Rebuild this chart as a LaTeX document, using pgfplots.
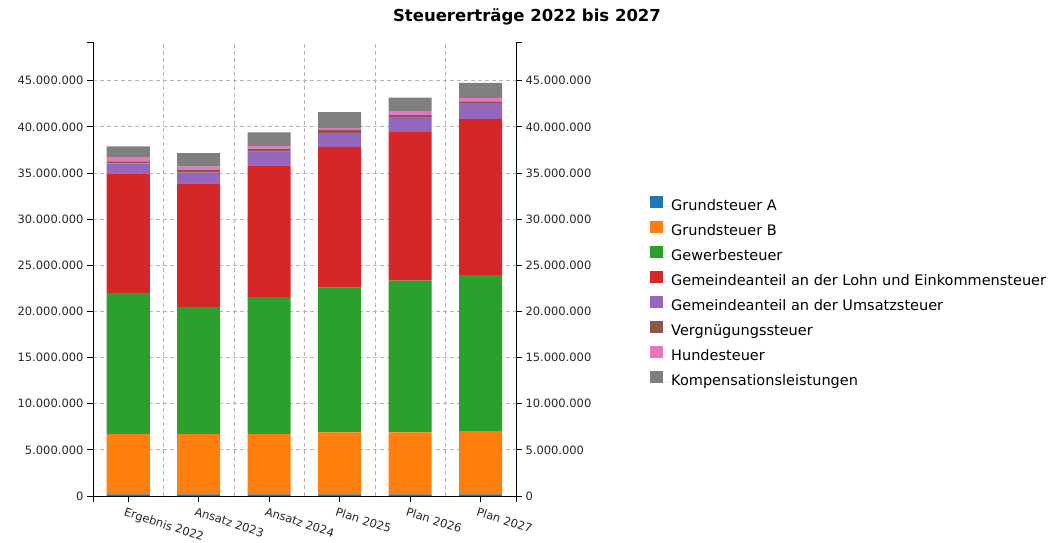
\documentclass[border=0pt]{standalone}
\usepackage{fontspec}
\setmainfont{DejaVu Sans}
\usepackage{pgfplots}
\pgfplotsset{compat=1.18}

\definecolor{cA}{HTML}{1F77B4}
\definecolor{cB}{HTML}{FF7F0E}
\definecolor{cGew}{HTML}{2CA02C}
\definecolor{cESt}{HTML}{D62728}
\definecolor{cUSt}{HTML}{9467BD}
\definecolor{cVer}{HTML}{8C564B}
\definecolor{cHun}{HTML}{E377C2}
\definecolor{cKom}{HTML}{7F7F7F}
\definecolor{gridc}{HTML}{B4B4B4}

\pgfplotsset{
 base/.style={
  scale only axis,width=423pt,height=454pt,
  at={(93pt,46pt)},anchor=south west,
  xmin=-0.5,xmax=5.5,ymin=0,ymax=49200000,
  scaled y ticks=false,
  ytick={0,5000000,10000000,15000000,20000000,25000000,30000000,35000000,40000000,45000000},
  yticklabels={0,5.000.000,10.000.000,15.000.000,20.000.000,25.000.000,30.000.000,35.000.000,40.000.000,45.000.000},
  extra y ticks={49200000},extra y tick labels={},
  extra tick style={grid=none},
  tick align=outside,major tick length=6pt,
  tick style={black,line width=0.8pt},
  axis line style={black,line width=0.8pt},
  tick label style={font=\fontsize{11.5}{13}\selectfont,text=black!85},
  /pgf/number format/assume math mode=true,
 },
}

\begin{document}
\begin{tikzpicture}
\begin{axis}[base,
 axis x line*=bottom,axis y line*=left,
 ybar stacked,bar width=43pt,
 xtick={0,1,2,3,4,5},
 xticklabels={Ergebnis 2022,Ansatz 2023,Ansatz 2024,Plan 2025,Plan 2026,Plan 2027},
 extra x ticks={-0.5,5.5},extra x tick labels={},
 x tick label style={rotate=-18,anchor=north west,xshift=-4pt,yshift=-2pt,font=\fontsize{11.5}{13}\selectfont},
 minor xtick={0.5,1.5,2.5,3.5,4.5},minor tick length=0pt,
 xminorgrids=true,ymajorgrids=true,
 major grid style={gridc,line width=0.8pt,dash pattern=on 4pt off 3pt},
 minor grid style={gridc,line width=0.8pt,dash pattern=on 4pt off 3pt},
 legend cell align=left,
 legend style={draw=none,fill=none,inner sep=0pt,
  at={(axis description cs:1.3168,0.662)},anchor=north west,
  font=\fontsize{14.5}{16}\selectfont,row sep=7pt,
  nodes={inner sep=0pt,text height=11pt,text depth=3pt}},
 legend image code/.code={\fill[#1,draw=none] (0pt,-1pt) rectangle (13pt,11pt); \path (0pt,0pt) -- (21pt,0pt);},
]
\addplot[fill=cA,draw=none] coordinates {(0,170000) (1,170000) (2,170000) (3,170000) (4,170000) (5,170000)};
\addplot[fill=cB,draw=none] coordinates {(0,6530000) (1,6530000) (2,6530000) (3,6720000) (4,6720000) (5,6860000)};
\addplot[fill=cGew,draw=none] coordinates {(0,15300000) (1,13790000) (2,14840000) (3,15690000) (4,16440000) (5,16910000)};
\addplot[fill=cESt,draw=none] coordinates {(0,12930000) (1,13400000) (2,14290000) (3,15260000) (4,16130000) (5,16890000)};
\addplot[fill=cUSt,draw=none] coordinates {(0,1120000) (1,1150000) (2,1490000) (3,1510000) (4,1620000) (5,1750000)};
\addplot[fill=cVer,draw=none] coordinates {(0,220000) (1,330000) (2,320000) (3,330000) (4,190000) (5,180000)};
\addplot[fill=cHun,draw=none] coordinates {(0,460000) (1,320000) (2,280000) (3,210000) (4,430000) (5,360000)};
\addplot[fill=cKom,draw=none] coordinates {(0,1160000) (1,1470000) (2,1480000) (3,1700000) (4,1480000) (5,1660000)};
\legend{Grundsteuer A,Grundsteuer B,Gewerbesteuer,Gemeindeanteil an der Lohn und Einkommensteuer,Gemeindeanteil an der Umsatzsteuer,Vergnügungssteuer,Hundesteuer,Kompensationsleistungen}
\end{axis}
\begin{axis}[base,
 axis x line=none,axis y line*=right,
]
\addplot[draw=none] coordinates {(0,0)};
\end{axis}
\node[font=\bfseries\fontsize{16.5}{18}\selectfont] at (527pt,525pt) {Steuererträge 2022 bis 2027};
\pgfresetboundingbox
\useasboundingbox (0pt,0pt) rectangle (1050pt,542pt);
\end{tikzpicture}
\end{document}
